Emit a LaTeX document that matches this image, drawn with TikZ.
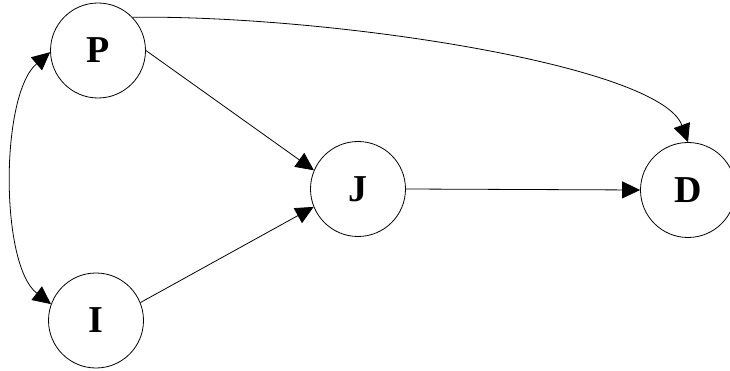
\documentclass[tikz,border=0pt]{standalone}
\usepackage{fontspec}
\setmainfont{Liberation Serif}
\usetikzlibrary{arrows.meta}
\begin{document}
\begin{tikzpicture}[x=1pt,y=-1pt,
  var/.style={draw,circle,line width=0.8pt,minimum size=95pt,inner sep=0pt,
    font=\fontsize{38}{40}\selectfont\bfseries},
  edge/.style={line width=0.8pt,-{Triangle[length=18pt,width=17pt]}},
  biedge/.style={line width=0.8pt,{Triangle[length=18pt,width=17pt]}-{Triangle[length=18pt,width=17pt]}}]
\useasboundingbox (0,0) rectangle (730,371);
\node[var] (P) at (98,50.5) {P};
\node[var] (J) at (358,189) {J};
\node[var] (I) at (96,320.5) {I};
\node[var] (D) at (688,190) {D};
\draw[edge] (P.east) -- (J.157);
\draw[edge] (I.22) -- (J.202);
\draw[edge] (J.east) -- (D.west);
\draw[edge] (P.44) .. controls (330,15) and (660,65) .. (D.north);
\draw[biedge] (P.182) .. controls (0,95) and (0,265) .. (I.160);
\end{tikzpicture}
\end{document}
